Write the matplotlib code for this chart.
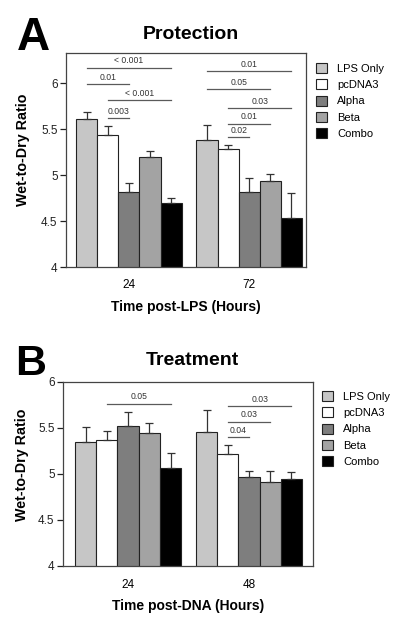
import numpy as np
import matplotlib.pyplot as plt
from matplotlib.patches import Patch

plt.rcParams['font.family'] = ['Liberation Sans', 'DejaVu Sans']

# series and colours
series = ['LPS Only', 'pcDNA3', 'Alpha', 'Beta', 'Combo']
colors = ['#c6c6c6', '#ffffff', '#7e7e7e', '#a3a3a3', '#000000']

# Panel A - Protection
times_a = ['24', '72']
means_a = [[5.61, 5.44, 4.82, 5.20, 4.70],
           [5.38, 5.29, 4.82, 4.94, 4.53]]
errs_a = [[0.08, 0.10, 0.10, 0.06, 0.05],
          [0.17, 0.04, 0.15, 0.07, 0.28]]
# (group, from bar, to bar, height, p-value)
sig_a = [(0, 0, 4, 6.17, '< 0.001'),
         (0, 0, 2, 5.99, '0.01'),
         (0, 1, 4, 5.815, '< 0.001'),
         (0, 1, 2, 5.62, '0.003'),
         (1, 0, 4, 6.13, '0.01'),
         (1, 0, 3, 5.935, '0.05'),
         (1, 1, 4, 5.73, '0.03'),
         (1, 1, 3, 5.56, '0.01'),
         (1, 1, 2, 5.41, '0.02')]

# Panel B - Treatment
times_b = ['24', '48']
means_b = [[5.35, 5.37, 5.52, 5.45, 5.065],
           [5.46, 5.22, 4.97, 4.91, 4.95]]
errs_b = [[0.16, 0.10, 0.15, 0.10, 0.165],
          [0.24, 0.09, 0.06, 0.12, 0.07]]
sig_b = [(0, 1, 4, 5.765, '0.05'),
         (1, 1, 4, 5.74, '0.03'),
         (1, 1, 3, 5.57, '0.03'),
         (1, 1, 2, 5.40, '0.04')]

group_start = [0.0, 5.7]
W, H = 400, 621


def draw_panel(ax, times, means, errs, sigs, ylim, xlim, xlabel):
    for g in range(2):
        x = group_start[g] + np.arange(len(series))
        for i in range(len(series)):
            ax.bar(x[i], means[g][i], width=1.0, color=colors[i],
                   edgecolor='#222222', linewidth=0.8, zorder=2)
            ax.errorbar(x[i], means[g][i], yerr=[[0], [errs[g][i]]],
                        fmt='none', ecolor='#333333', elinewidth=0.9,
                        capsize=3, capthick=0.9, zorder=3)
    for g, i, j, y, lab in sigs:
        x0 = group_start[g] + i
        x1 = group_start[g] + j
        ax.plot([x0, x1], [y, y], color='#5a5a5a', lw=0.9, zorder=1)
        ax.text((x0 + x1) / 2, y + 0.025, lab, ha='center', va='bottom',
                fontsize=6.2, color='#333333')
    ax.set_ylim(*ylim)
    ax.set_xlim(*xlim)
    ax.set_yticks([4, 4.5, 5, 5.5, 6])
    ax.set_yticklabels(['4', '4.5', '5', '5.5', '6'])
    ax.set_xticks([group_start[0] + 2, group_start[1] + 2])
    ax.set_xticklabels(times)
    ax.tick_params(axis='y', direction='out', length=4, width=0.9,
                   labelsize=8.5, colors='#222222', pad=2)
    ax.tick_params(axis='x', length=0, labelsize=8.5, pad=9)
    for s in ax.spines.values():
        s.set_color('#444444')
        s.set_linewidth(0.9)
    ax.set_xlabel(xlabel, fontsize=10, fontweight='bold', labelpad=6)
    ax.set_ylabel('Wet-to-Dry Ratio', fontsize=10.3, fontweight='bold')


fig = plt.figure(figsize=(4, 6.21), dpi=100)

ax_a = fig.add_axes([66 / W, 1 - 267 / H, 240 / W, 214 / H])
draw_panel(ax_a, times_a, means_a, errs_a, sig_a, (4, 6.33), (-0.98, 10.39),
           'Time post-LPS (Hours)')
ax_a.yaxis.set_label_coords(-0.152, 0.547)

ax_b = fig.add_axes([63 / W, 1 - 566 / H, 250 / W, 184 / H])
draw_panel(ax_b, times_b, means_b, errs_b, sig_b, (4, 6), (-1.07, 10.72),
           'Time post-DNA (Hours)')
ax_b.yaxis.set_label_coords(-0.134, 0.549)

handles = [Patch(facecolor=c, edgecolor='#222222', linewidth=0.8) for c in colors]
for top, left in [(63, 316), (391, 322)]:
    fig.legend(handles, series, loc='upper left',
               bbox_to_anchor=(left / W, 1 - top / H), frameon=False,
               fontsize=8, handlelength=1.0, handleheight=1.0,
               handletextpad=0.9, labelspacing=0.5, borderpad=0,
               borderaxespad=0)

fig.text(17 / W, 1 - 50 / H, 'A', fontsize=33, fontweight='bold', va='baseline')
fig.text(15 / W, 1 - 375 / H, 'B', fontsize=31, fontweight='bold', va='baseline')
fig.text(191 / W, 1 - 39 / H, 'Protection', fontsize=14, fontweight='bold',
         ha='center', va='baseline')
fig.text(192 / W, 1 - 365 / H, 'Treatment', fontsize=14, fontweight='bold',
         ha='center', va='baseline')

fig.savefig('out.png', dpi=100)
